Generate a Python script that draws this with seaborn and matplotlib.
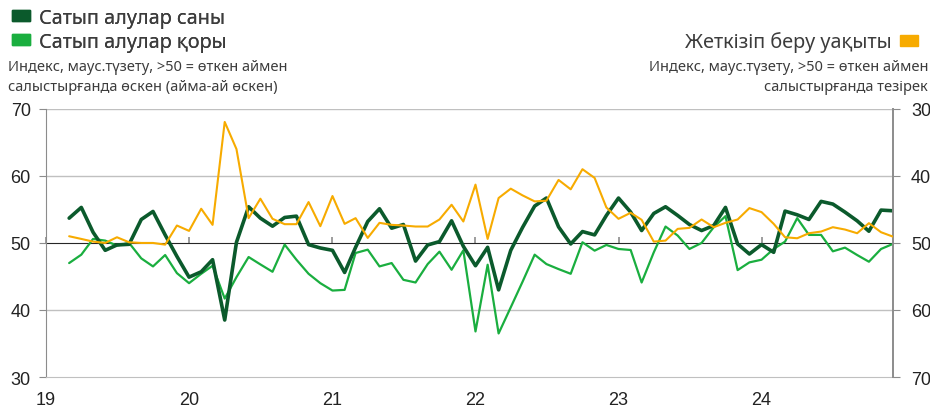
import pandas as pd
import matplotlib.pyplot as plt
import seaborn as sns
from matplotlib.patches import Patch

# -----------------------------
# Datos (mensuales, mar-2019 .. dic-2024)
# -----------------------------
start_month = "2019-03-01"

sales_count = [
    53.7, 55.3, 51.6, 48.9, 49.7, 49.8, 53.5, 54.7, 51.2, 48.0,
    44.9, 45.7, 47.5, 38.5, 50.1, 55.4, 53.7, 52.5, 53.8, 54.0, 49.75, 49.25,
    48.9, 45.6, 49.35, 53.2, 55.1, 52.2, 52.75, 47.3, 49.7, 50.2, 53.3, 49.5,
    46.6, 49.35, 43.0, 48.9, 52.3, 55.5, 56.7, 52.4, 49.85, 51.7, 51.2, 54.1,
    56.7, 54.6, 51.85, 54.4, 55.4, 54.1, 52.75, 51.85, 52.6, 55.3, 49.85, 48.35,
    49.75, 48.6, 54.75, 54.2, 53.5, 56.2, 55.8, 54.6, 53.3, 51.75, 54.9, 54.8,
]

sales_stock = [
    47.0, 48.25, 50.6, 50.35, 49.6, 50.0, 47.7, 46.5, 48.2, 45.5,
    44.0, 45.4, 46.6, 41.7, 44.9, 47.9, 46.8, 45.7, 49.75, 47.5, 45.4, 44.0,
    42.9, 43.0, 48.5, 49.0, 46.5, 47.0, 44.5, 44.1, 46.85, 48.7, 46.0, 48.9,
    36.8, 46.75, 36.5, 40.4, 44.2, 48.25, 46.85, 46.1, 45.4, 50.1, 48.85, 49.7,
    49.1, 48.95, 44.1, 48.6, 52.45, 51.1, 49.1, 50.0, 52.35, 54.0, 45.95, 47.1,
    47.5, 49.1, 50.2, 53.7, 51.2, 51.2, 48.75, 49.3, 48.2, 47.2, 49.1, 49.85,
]

delivery_time = [
    49.0, 49.4, 49.8, 50.0, 49.15, 49.9, 50.0, 50.0, 50.25, 47.4,
    48.2, 44.9, 47.3, 31.95, 36.0, 46.3, 43.4, 46.4, 47.2, 47.2, 43.9, 47.5,
    43.0, 47.15, 46.3, 49.25, 47.0, 47.3, 47.4, 47.55, 47.55, 46.5, 44.3, 46.8,
    41.3, 49.4, 43.3, 41.9, 42.9, 43.8, 43.7, 40.6, 42.0, 39.0, 40.3, 44.7,
    46.4, 45.5, 46.55, 49.8, 49.65, 47.9, 47.75, 46.5, 47.65, 47.0, 46.5, 44.8,
    45.4, 47.15, 49.15, 49.3, 48.55, 48.3, 47.65, 48.0, 48.55, 47.05, 48.4, 49.05,
]

year_ticks = ["2019-01-01", "2020-01-01", "2021-01-01", "2022-01-01", "2023-01-01", "2024-01-01"]
year_labels = ["19", "20", "21", "22", "23", "24"]

label_count = "Сатып алулар саны"
label_stock = "Сатып алулар қоры"
label_delivery = "Жеткізіп беру уақыты"
subtitle_left = "Индекс, маус.түзету, >50 = өткен аймен\nсалыстырғанда өскен (айма-ай өскен)"
subtitle_right = "Индекс, маус.түзету, >50 = өткен аймен\nсалыстырғанда тезірек"

# -----------------------------
# Estilo
# -----------------------------
col_dark = "#0b5a2c"
col_light = "#1aae3f"
col_orange = "#f7ab00"
col_text = "#3c3c3c"
col_grid = "#c0c0c0"
col_axis = "#8c8c8c"

sns.set_style("white")
plt.rcParams["font.family"] = ["Noto Sans", "DejaVu Sans"]
tick_font = ["Liberation Sans Narrow", "Liberation Sans", "DejaVu Sans"]

df = pd.DataFrame({
    "fecha": pd.date_range(start_month, periods=len(sales_count), freq="MS"),
    "count": sales_count,
    "stock": sales_stock,
    "delivery": delivery_time,
})

fig = plt.figure(figsize=(9.3, 4.1), dpi=100)
ax = fig.add_axes([0.0495, 0.078, 0.9105, 0.654])

sns.lineplot(data=df, x="fecha", y="stock", ax=ax, color=col_light, linewidth=1.6, zorder=3)
sns.lineplot(data=df, x="fecha", y="count", ax=ax, color=col_dark, linewidth=2.6, zorder=4)

ax2 = ax.twinx()
sns.lineplot(data=df, x="fecha", y="delivery", ax=ax2, color=col_orange, linewidth=1.5, zorder=5)

x_min = pd.Timestamp("2019-01-01")
x_max = pd.Timestamp("2024-12-01")
ax.set_xlim(x_min, x_max)
ax.set_ylim(30, 70)
ax2.set_ylim(70, 30)

# rejilla horizontal
for v in [40, 60, 70]:
    ax.axhline(v, color=col_grid, linewidth=1.0, zorder=1)

# eje x abajo (solo etiquetas) y linea de 50 con marcas
ax.set_xticks(pd.to_datetime(year_ticks))
ax.set_xticklabels(year_labels)
ax.tick_params(axis="x", length=0, pad=10, labelsize=13, labelcolor="#222222")
sec = ax.secondary_xaxis(0.5)
sec.set_xticks(pd.to_datetime(year_ticks))
sec.set_xticklabels([])
sec.tick_params(axis="x", direction="out", length=4, color=col_axis, width=1.2)
sec.spines["bottom"].set_color(col_axis)
sec.spines["bottom"].set_linewidth(1.3)

ax.set_yticks([30, 40, 50, 60, 70])
ax.tick_params(axis="y", direction="out", length=5, color=col_axis, pad=6,
               labelsize=13, labelcolor="#222222", left=True)
ax2.set_yticks([30, 40, 50, 60, 70])
ax2.tick_params(axis="y", direction="out", length=5, color=col_axis, pad=8,
                labelsize=13, labelcolor="#222222", right=True)

for lab in ax.get_xticklabels() + ax.get_yticklabels() + ax2.get_yticklabels():
    lab.set_family(tick_font)

ax.set_xlabel("")
ax.set_ylabel("")
ax2.set_ylabel("")

for a in (ax, ax2):
    a.spines["top"].set_visible(False)
    a.spines["left"].set_color(col_axis)
    a.spines["right"].set_color(col_axis)
    a.spines["bottom"].set_color(col_grid)
ax.spines["right"].set_visible(False)
ax2.spines["left"].set_visible(False)
ax2.spines["bottom"].set_visible(False)
ax2.spines["right"].set_linewidth(1.4)

# -----------------------------
# Leyendas y subtitulos
# -----------------------------
leg1 = fig.legend(handles=[Patch(color=col_dark), Patch(color=col_light)],
                  labels=[label_count, label_stock],
                  loc="upper left", bbox_to_anchor=(0.0, 1.008), frameon=False,
                  fontsize=14.3, handlelength=0.9, handleheight=0.45,
                  handletextpad=0.45, labelspacing=0.2, borderaxespad=0.2,
                  labelcolor=col_text)
fig.add_artist(leg1)
fig.legend(handles=[Patch(color=col_orange)], labels=[label_delivery],
           loc="upper right", bbox_to_anchor=(1.0, 0.950), frameon=False,
           fontsize=14.3, handlelength=0.9, handleheight=0.45,
           handletextpad=0.45, markerfirst=False, borderaxespad=0.2,
           labelcolor=col_text)

fig.text(0.009, 0.8525, subtitle_left, ha="left", va="top", fontsize=10.5,
         color=col_text, linespacing=1.45)
fig.text(0.998, 0.8525, subtitle_right, ha="right", va="top", fontsize=10.5,
         color=col_text, linespacing=1.45, multialignment="right")

fig.savefig("out.png", dpi=100)
